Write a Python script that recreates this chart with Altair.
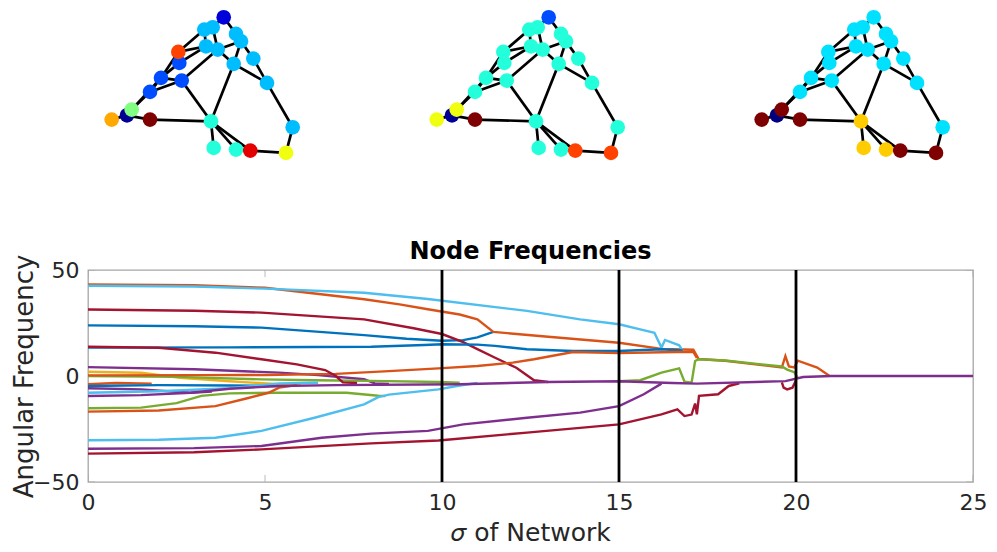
import altair as alt
import pandas as pd

# ---------------- network snapshots (node layout, edges, node phases) ----------------
node_x = [132.7, 113.3, 121.7, 145.0, 150.0, 115.0, 126.7, 88.3, 87.3, 162.3, 142.7, 70.0, 90.7,
          176.0, 59.0, 20.7, 36.0, 40.7, 59.0, 120.0, 201.7, 122.7, 145.0, 159.3, 195.0]
node_y = [12.7, 25.0, 22.7, 29.3, 36.7, 41.7, 45.0, 58.3, 47.3, 54.0, 59.3, 73.3, 76.0,
          78.3, 87.3, 115.0, 110.7, 105.0, 115.0, 116.7, 122.7, 143.3, 145.0, 146.0, 148.3]
edges = [(0, 2), (0, 3), (1, 2), (1, 8), (2, 6), (3, 4), (4, 10), (4, 9), (9, 13), (6, 4), (6, 10),
         (10, 13), (5, 8), (5, 7), (5, 6), (6, 12), (12, 19), (10, 19), (11, 12), (11, 7), (11, 8),
         (14, 11), (14, 12), (14, 17), (16, 18), (16, 15), (18, 19), (19, 21), (19, 22), (19, 23),
         (22, 23), (23, 24), (24, 20), (20, 13), (1, 5), (17, 11)]
phase_1 = [0.09, 0.31, 0.31, 0.31, 0.31, 0.31, 0.31, 0.20, 0.81, 0.31, 0.31, 0.20, 0.20,
           0.31, 0.20, 0.71, 0.02, 0.50, 1.00, 0.41, 0.31, 0.41, 0.41, 0.90, 0.61]
phase_2 = [0.20, 0.41, 0.41, 0.41, 0.41, 0.41, 0.41, 0.41, 0.41, 0.41, 0.41, 0.41, 0.41,
           0.41, 0.41, 0.61, 0.02, 0.61, 1.00, 0.41, 0.41, 0.41, 0.41, 0.81, 0.81]
phase_3 = [0.345, 0.345, 0.345, 0.345, 0.345, 0.345, 0.345, 0.345, 0.345, 0.345, 0.345, 0.345, 0.345,
           0.345, 0.345, 1.00, 0.00, 1.00, 1.00, 0.675, 0.345, 0.675, 0.675, 1.00, 1.00]

# ---------------- node frequency traces (sigma, angular frequency) ----------------
b_top = [(0, 23.9), (3, 23.5), (4.9, 22.8), (7.8, 19.3), (9, 17.6), (10, 16.6), (10.6, 16.9), (11, 18.2), (11.45, 20.8)]
or_top = [(0, 43.2), (3, 42.8), (5, 41.6), (7.8, 36.2), (8.8, 33.8), (9.6, 31.5), (10.5, 29), (11, 26.7),
          (11.45, 20.8), (13, 18.5), (15, 15.7), (16.2, 12.8), (17.1, 12.4), (17.25, 8), (18, 7.2),
          (19.6, 4), (19.7, 9.4), (19.8, 4.5), (19.95, 4), (20.05, 7.2), (20.6, 4), (20.95, 0)]
y_up = [(0, 2.0), (1.5, 1.5), (2.6, -0.8), (4, -2.5), (5.4, -3.9), (6, -4.2)]
p_up = [(0, 4.2), (3, 3.2), (5.4, 1.6), (6.5, 0.4), (7.8, -1.5), (8.1, -3.5), (8.5, -3.8)]
g_mid = [(0, 0), (2.5, -0.4), (4.9, -1.6), (6.4, -2), (8, -2.3), (9.9, -2.8), (10.5, -3.2)]
lb_top = [(0, 42.6), (3, 42.2), (5, 41.2), (7.8, 39.3), (9.6, 36.3), (12.4, 30.7), (13.9, 26.7), (15, 24.4),
          (15.6, 22), (16, 20.4), (16.2, 13.4), (16.3, 17), (16.7, 14.5), (16.8, 11.8)]
dr_top = [(0, 31.4), (3, 30.8), (4.9, 29.9), (7.8, 26.7), (9.2, 22.5), (10, 19.8), (10.6, 16), (11, 12.7),
          (11.5, 8.6), (12.1, 3.9), (12.6, -2), (13, -2.8)]
b_low = [(0, 13.4), (4, 13.5), (8, 13.8), (9.5, 14.6), (10, 15), (11, 14.8), (11.5, 14.2), (12.4, 12.6),
         (13.7, 11.8), (15, 11.8), (16.2, 12.6), (16.8, 12)]
or_mid = [(0, 0.3), (3, 0.4), (5, 0.5), (7, 1), (8.5, 2.3), (9.9, 3.6), (11, 4.7), (12, 6.3), (12.6, 7.9),
          (13.7, 11.3), (15, 10.8), (16.2, 11.2), (17.1, 11.4), (17.2, 8.5)]
or_short = [(0, -3.9), (0.8, -3.3), (1.8, -3.6)]
b_mid = [(0, -4.7), (2, -4.3), (4, -4.5), (5.4, -4.7)]
p_low1 = [(0, -5.8), (1.5, -6.3), (2.9, -7.9), (3.5, -7.3)]
g_low = [(0, -15.2), (1.5, -14.9), (2.5, -12.8), (3.2, -9.4), (4, -8.2), (5.4, -7.9), (7.3, -7.9), (8.2, -9.3), (8.4, -9.5)]
lb_mid = [(0, -7.9), (2, -7.2), (4, -5.8), (5.4, -3.5), (6.5, -3.2)]
dr_low = [(0, 13.8), (2, 13.3), (3.6, 11), (4.9, 7.9), (5.9, 5.5), (6.7, 2.8), (7.0, 0), (7.2, -3), (7.6, -3.3)]
or_low = [(0, -16.8), (2, -16.3), (3.6, -14.2), (4.5, -10.5), (5.1, -7.9), (5.4, -5.5), (5.9, -4.3)]
lb_low = [(0, -30.3), (2, -30.1), (3.6, -29.1), (4.9, -25.9), (6.4, -19.7), (7.8, -13.4), (8.2, -10),
          (8.5, -8.8), (9.9, -6.3), (10.5, -4.5), (11, -3.3)]
p_low = [(0, -34.3), (3, -34), (4.9, -33), (6.6, -29.1), (8, -27.2), (9.6, -25.9), (10.6, -22.8), (12.4, -19.7),
         (13.9, -17.3), (15, -14.2), (15.7, -8.6), (16.2, -3.6)]
dr_bot = [(0, -36.6), (3, -36), (4.9, -34.6), (8, -31.8), (9.9, -30.4), (12.4, -26.7), (15, -22.8), (16.2, -18.1),
          (16.65, -15.7), (16.85, -18.9), (17.05, -18.2), (17.15, -13), (17.2, -18.1), (17.26, -9.4),
          (17.8, -8.6), (18.1, -4.7), (18.4, -3.5)]
dr_spike = [(19.6, -3), (19.65, -5.5), (19.75, -6.3), (19.9, -5.5), (20, -2)]
g_late = [(15, -2.5), (15.6, -2), (16.2, 1.6), (16.7, 3.6), (16.85, -2.7), (17.05, -3.1), (17.15, 7.1),
          (17.25, 7.9), (18, 7.3), (19.6, 4.5), (19.75, 3), (19.95, 1.8), (20.05, -1)]
p_cent = [(0, -9.4), (1.5, -9), (2.9, -7.9), (4, -6), (5.4, -4.7), (7, -4.3), (10.5, -3.9), (13, -2.8),
          (15, -2.5), (16.5, -3.3), (17.2, -3.6), (19.7, -2.4), (20.2, -0.5), (21, 0), (25, 0)]

series = [("blue", b_top), ("orange", or_top), ("yellow", y_up), ("purple", p_up), ("green", g_mid),
          ("lightblue", lb_top), ("darkred", dr_top), ("blue", b_low), ("orange", or_mid),
          ("orange", or_short), ("blue", b_mid), ("purple", p_low1), ("green", g_low),
          ("lightblue", lb_mid), ("darkred", dr_low), ("orange", or_low), ("lightblue", lb_low),
          ("purple", p_low), ("darkred", dr_bot), ("darkred", dr_spike), ("green", g_late),
          ("purple", p_cent)]

snapshots = [10, 15, 20]
x_ticks = [0, 5, 10, 15, 20, 25]
y_ticks = [-50, 0, 50]

palette_keys = ["blue", "orange", "yellow", "purple", "green", "lightblue", "darkred"]
palette_colors = ["#0072BD", "#D95319", "#EDB120", "#7E2F8E", "#77AC30", "#4DBEEE", "#A2142F"]
jet_domain = [0, 0.125, 0.375, 0.625, 0.875, 1]
jet_range = ["#00007f", "#0000ff", "#00ffff", "#ffff00", "#ff0000", "#7f0000"]

FONT = "DejaVu Sans"
TXT = "#262626"
PANEL_W = 250
PANEL_H = 170
PLOT_W = 885
PLOT_H = 212


def network_panel(phase):
    nodes = pd.DataFrame({"nx": node_x, "ny": node_y, "phase": phase, "k": list(range(len(node_x)))})
    edf = pd.DataFrame({
        "x": [node_x[a] for a, b in edges], "y": [node_y[a] for a, b in edges],
        "x2": [node_x[b] for a, b in edges], "y2": [node_y[b] for a, b in edges],
    })
    xs = alt.Scale(domain=[-3, PANEL_W - 3], nice=False, zero=False)
    ys = alt.Scale(domain=[4.4, 4.4 + PANEL_H], reverse=True, nice=False, zero=False)
    e = alt.Chart(edf).mark_rule(color="black", strokeWidth=2.7).encode(
        x=alt.X("x:Q", scale=xs, axis=None), y=alt.Y("y:Q", scale=ys, axis=None),
        x2="x2:Q", y2="y2:Q")
    n = alt.Chart(nodes).mark_circle(size=215, opacity=1).encode(
        x=alt.X("nx:Q", scale=xs, axis=None), y=alt.Y("ny:Q", scale=ys, axis=None),
        color=alt.Color("phase:Q", scale=alt.Scale(domain=jet_domain, range=jet_range, interpolate="rgb"),
                        legend=None),
        order="k:Q")
    return alt.layer(e, n).properties(width=PANEL_W, height=PANEL_H,
                                      view=alt.ViewBackground(stroke="transparent"))


top = alt.hconcat(network_panel(phase_1), network_panel(phase_2), network_panel(phase_3), spacing=73)

rows = []
for sid, (key, pts) in enumerate(series):
    for i, (sx, fy) in enumerate(pts):
        rows.append({"sid": sid, "key": key, "sigma": sx, "freq": fy, "i": i})
df = pd.DataFrame(rows)

xscale = alt.Scale(domain=[0, 25], nice=False, zero=False)
yscale = alt.Scale(domain=[-50, 50], nice=False, zero=False)

x_axis = alt.Axis(values=x_ticks, ticks=False, domain=False, grid=False, format="d", labelFlush=False,
                  labelFont=FONT, labelFontSize=22, labelColor=TXT, labelPadding=10,
                  titleFont=FONT, titleFontSize=25, titleColor=TXT, titleFontWeight="normal",
                  titlePadding=7)
y_axis = alt.Axis(values=y_ticks, ticks=False, domain=False, grid=False, format="d", labelFlush=False,
                  labelFont=FONT, labelFontSize=22, labelColor=TXT, labelPadding=9,
                  titleFont=FONT, titleFontSize=26, titleColor=TXT, titleFontWeight="normal",
                  titleX=-51, titleY=PLOT_H / 2, titleAngle=270, titleAlign="center",
                  titleBaseline="bottom")

lines = alt.Chart(df).mark_line(strokeWidth=2.4).encode(
    x=alt.X("sigma:Q", scale=xscale, axis=x_axis, title="\U0001D70E of Network"),
    y=alt.Y("freq:Q", scale=yscale, axis=y_axis, title="Angular Frequency"),
    color=alt.Color("key:N", scale=alt.Scale(domain=palette_keys, range=palette_colors), legend=None),
    detail="sid:N",
    order="i:Q",
)

snap = alt.Chart(pd.DataFrame({"sigma": snapshots})).mark_rule(color="black", strokeWidth=2.8).encode(
    x=alt.X("sigma:Q", scale=xscale))

xt = pd.DataFrame({"sigma": x_ticks})
yt = pd.DataFrame({"freq": y_ticks})
tick_top = alt.Chart(xt).mark_tick(clip=True, size=14, thickness=1, color="#a0a0a0").encode(
    x=alt.X("sigma:Q", scale=xscale), y=alt.datum(50))
tick_bot = alt.Chart(xt).mark_tick(clip=True, size=14, thickness=1, color="#a0a0a0").encode(
    x=alt.X("sigma:Q", scale=xscale), y=alt.datum(-50))
tick_l = alt.Chart(yt).mark_tick(clip=True, size=14, thickness=1, color="#a0a0a0", orient="horizontal").encode(
    y=alt.Y("freq:Q", scale=yscale), x=alt.datum(0))
tick_r = alt.Chart(yt).mark_tick(clip=True, size=14, thickness=1, color="#a0a0a0", orient="horizontal").encode(
    y=alt.Y("freq:Q", scale=yscale), x=alt.datum(25))

bottom = alt.layer(tick_top, tick_bot, tick_l, tick_r, lines, snap).properties(
    width=PLOT_W, height=PLOT_H,
    title=alt.TitleParams("Node Frequencies", font=FONT, fontSize=24, fontWeight="bold",
                          color="black", offset=-10, anchor="middle"),
    view=alt.ViewBackground(stroke="#a6a6a6", strokeWidth=1.3),
)

chart = alt.vconcat(top, bottom, spacing=59).properties(
    padding={"left": 2, "top": 0, "right": 0, "bottom": 0}).configure(
    background="white").configure_view(stroke="#a6a6a6")

chart.save("out.html", embed_options={"renderer": "svg", "actions": False})
